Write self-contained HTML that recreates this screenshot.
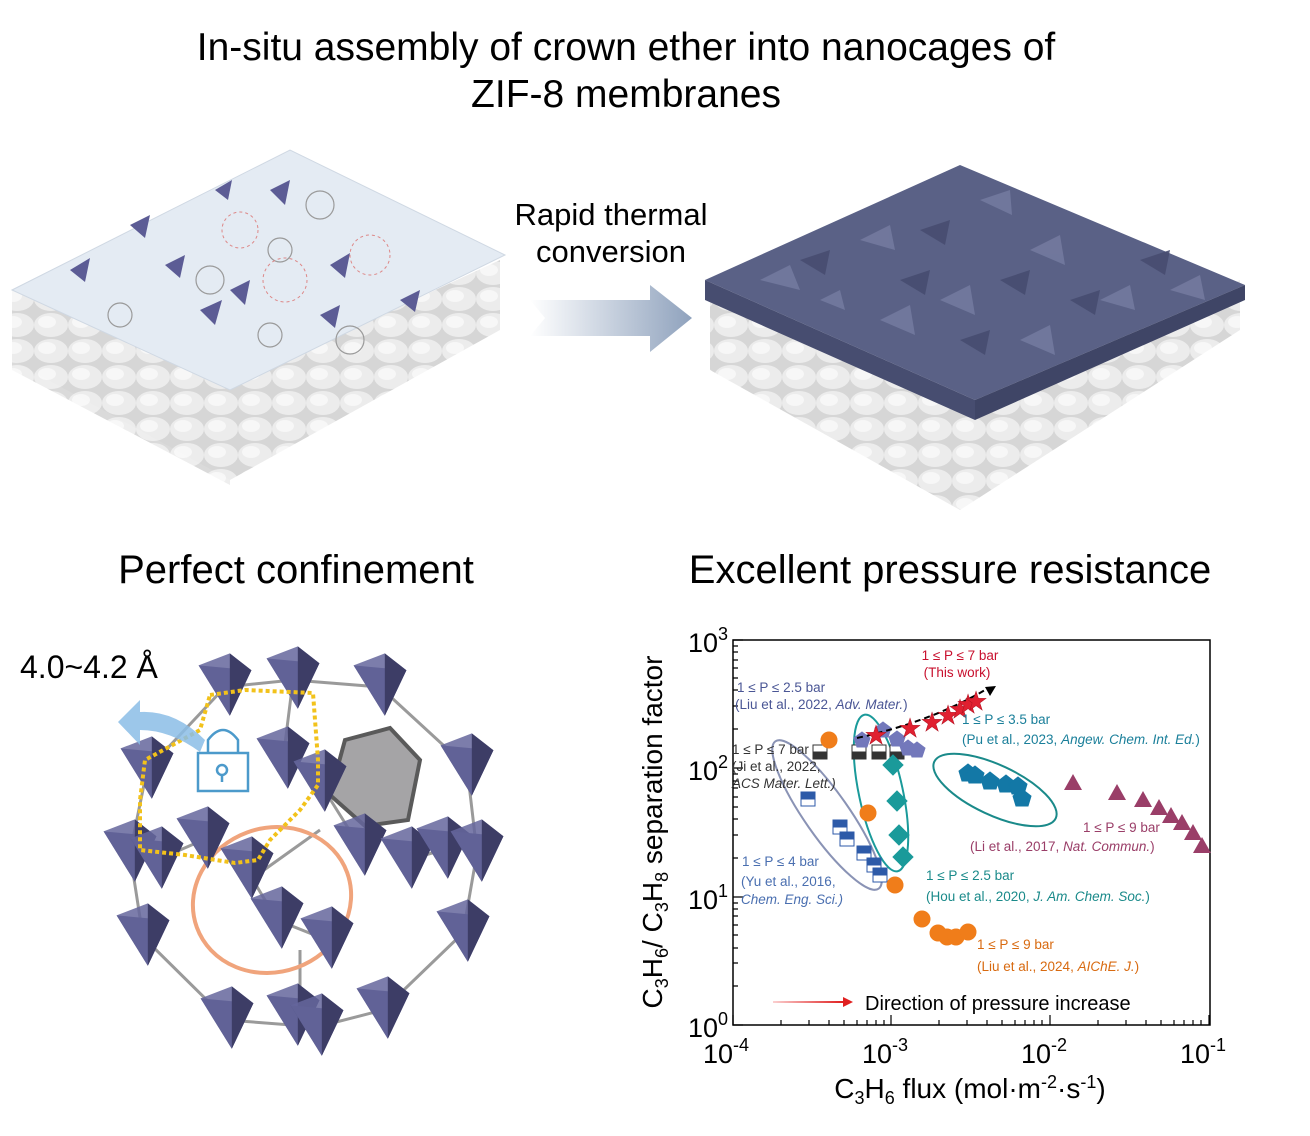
<!DOCTYPE html>
<html><head><meta charset="utf-8"><style>
html,body{margin:0;padding:0;background:#fff}
svg{display:block}
text{font-family:"Liberation Sans",Arial,sans-serif}
</style></head><body>
<svg width="1310" height="1136" viewBox="0 0 1310 1136" xmlns="http://www.w3.org/2000/svg">
<defs>
<linearGradient id="ag" x1="0" x2="1"><stop offset="0" stop-color="#fff"/><stop offset="1" stop-color="#8fa2bd"/></linearGradient>
<linearGradient id="ra" x1="0" x2="1"><stop offset="0" stop-color="#fbd0d0"/><stop offset="1" stop-color="#e02020"/></linearGradient>
<pattern id="bumps" width="34" height="26" patternUnits="userSpaceOnUse"><rect width="34" height="26" fill="#d6d6d6"/><ellipse cx="17" cy="13" rx="17" ry="12" fill="#ececec"/><ellipse cx="13" cy="10" rx="9" ry="6" fill="#f7f7f7"/></pattern>
<g id="tet"><g transform="scale(1.2)"><polygon points="-22,-18 22,-14 4,24" fill="#4b4b7c"/><polygon points="-22,-18 4,-28 22,-14 4,24" fill="#65669c" opacity=".85"/><polygon points="4,-28 22,-14 4,24" fill="#3d3d66"/></g></g>
<clipPath id="top"><rect x="0" y="0" width="8" height="8"/></clipPath>
</defs>

<!-- Title -->
<text x="626" y="60" font-size="39" text-anchor="middle">In-situ assembly of crown ether into nanocages of</text>
<text x="626" y="107" font-size="39" text-anchor="middle">ZIF-8 membranes</text>

<!-- Left membrane -->
<polygon points="12,290 230,385 500,260 500,330 230,480 12,360" fill="url(#bumps)"/>
<polygon points="12,300 230,395 230,485 12,370" fill="url(#bumps)" opacity=".9"/>
<polygon points="12,290 290,150 505,255 230,390" fill="#e4ebf3" stroke="#cfd8e3"/>
<g fill="#5c5c95">
<polygon points="70,270 90,258 85,282"/><polygon points="130,225 150,215 145,238"/><polygon points="200,310 222,300 215,325"/><polygon points="270,190 290,180 285,205"/><polygon points="330,265 350,253 345,278"/><polygon points="230,290 250,280 245,305"/><polygon points="320,315 340,305 335,328"/><polygon points="400,300 420,290 415,312"/><polygon points="165,265 185,255 180,278"/><polygon points="215,190 232,180 228,200"/>
</g>
<g fill="none" stroke="#9a9a9a" stroke-width="1.2">
<circle cx="210" cy="280" r="14"/><circle cx="320" cy="205" r="14"/><circle cx="350" cy="340" r="14"/><circle cx="270" cy="335" r="12"/><circle cx="120" cy="315" r="12"/><circle cx="280" cy="250" r="12"/></g>
<g fill="none" stroke="#d88" stroke-width="1" stroke-dasharray="3 3"><circle cx="285" cy="280" r="22"/><circle cx="370" cy="255" r="20"/><circle cx="240" cy="230" r="18"/></g>

<!-- Arrow -->
<polygon points="530,300 650,300 650,285 692,318 650,352 650,336 530,336 545,318" fill="url(#ag)"/>
<text x="611" y="225" font-size="31" text-anchor="middle">Rapid thermal</text>
<text x="611" y="262" font-size="31" text-anchor="middle">conversion</text>

<!-- Right membrane -->
<polygon points="710,290 960,400 1240,280 1240,330 960,510 710,370" fill="url(#bumps)"/>
<polygon points="705,280 960,165 1245,285 975,400" fill="#5a6186"/>
<g fill="#737a9f" opacity=".9">
<polygon points="760,280 790,265 800,290"/><polygon points="860,240 890,225 895,250"/><polygon points="940,300 970,285 975,315"/><polygon points="1030,250 1060,235 1065,265"/><polygon points="1100,300 1130,285 1135,310"/><polygon points="980,200 1010,190 1012,215"/><polygon points="880,320 910,305 915,335"/><polygon points="1170,290 1200,275 1205,300"/><polygon points="1020,340 1050,325 1055,355"/><polygon points="820,300 840,290 845,310"/></g>
<g fill="#474d70" opacity=".9">
<polygon points="800,260 830,250 825,275"/><polygon points="920,230 950,220 945,245"/><polygon points="1000,280 1030,270 1025,295"/><polygon points="1070,300 1100,290 1095,315"/><polygon points="900,280 930,270 925,295"/><polygon points="1140,260 1170,250 1165,275"/><polygon points="960,340 990,330 985,355"/></g>
<polygon points="705,280 975,400 975,420 705,300" fill="#474d70"/>
<polygon points="975,400 1245,285 1245,300 975,420" fill="#3f4566"/>

<!-- Section titles -->
<text x="296" y="583" font-size="40" text-anchor="middle">Perfect confinement</text>
<text x="950" y="583" font-size="40" text-anchor="middle">Excellent pressure resistance</text>

<!-- Cage -->
<text x="20" y="678" font-size="32">4.0~4.2 Å</text>
<g stroke="#9a9a9a" stroke-width="3" fill="none">
<path d="M225,687 L293,680 L380,687 L467,767 L477,853 L463,933 L383,1010 L317,1027 L227,1020 L143,937 L130,853 L147,770 Z"/>
<path d="M293,680 L283,760 M320,783 L360,847 M247,870 L277,920 L327,940 M157,860 L203,840 M407,860 L443,850 M300,950 L300,1010 M250,880 L320,830"/>
</g>
<ellipse cx="272" cy="900" rx="80" ry="72" fill="none" stroke="#f0a47c" stroke-width="4" transform="rotate(-20 272 900)"/>
<polygon points="345,740 390,728 420,760 408,820 365,826 330,795" fill="#a5a4a6" stroke="#5a5a5a" stroke-width="4"/>
<g>
<use href="#tet" x="225" y="687"/><use href="#tet" x="293" y="680"/><use href="#tet" x="380" y="687"/><use href="#tet" x="467" y="767"/><use href="#tet" x="147" y="770"/><use href="#tet" x="283" y="760"/><use href="#tet" x="320" y="783"/><use href="#tet" x="130" y="853"/><use href="#tet" x="157" y="860"/><use href="#tet" x="203" y="840"/><use href="#tet" x="247" y="870"/><use href="#tet" x="360" y="847"/><use href="#tet" x="407" y="860"/><use href="#tet" x="443" y="850"/><use href="#tet" x="477" y="853"/><use href="#tet" x="143" y="937"/><use href="#tet" x="463" y="933"/><use href="#tet" x="277" y="920"/><use href="#tet" x="327" y="940"/><use href="#tet" x="227" y="1020"/><use href="#tet" x="293" y="1017"/><use href="#tet" x="317" y="1027"/><use href="#tet" x="383" y="1010"/>
</g>
<path d="M210,695 L245,690 L313,693 L318,760 L318,785 L300,810 L270,840 L258,860 L235,863 L185,855 L140,850 L140,800 L145,760 L200,730 Z" fill="none" stroke="#f2c21b" stroke-width="4" stroke-dasharray="4 3"/>
<path d="M205,740 Q175,710 140,712 L140,700 L118,722 L140,745 L140,730 Q170,730 200,752 Z" fill="#8bbde6" opacity=".85"/>
<g fill="none" stroke="#4c9acb" stroke-width="2.5"><rect x="198" y="753" width="50" height="38"/><path d="M208,753 V740 Q223,720 238,740 V753"/><circle cx="222" cy="770" r="5"/><path d="M222,775 V782"/></g>

<!-- Chart -->
<g font-size="13.5">
<rect x="733" y="640" width="477" height="385" fill="none" stroke="#000" stroke-width="1.5"/>
<g stroke="#000" stroke-width="1.2">
<path d="M733,1025v-10 M891,1025v-10 M1050,1025v-10 M1209,1025v-10 M733,640h10 M733,768h10 M733,897h10 M733,1025h10"/>
<path d="M781,1025v-5 M809,1025v-5 M829,1025v-5 M844,1025v-5 M857,1025v-5 M867,1025v-5 M876,1025v-5 M884,1025v-5 M939,1025v-5 M967,1025v-5 M987,1025v-5 M1002,1025v-5 M1015,1025v-5 M1025,1025v-5 M1034,1025v-5 M1042,1025v-5 M1098,1025v-5 M1126,1025v-5 M1146,1025v-5 M1161,1025v-5 M1174,1025v-5 M1184,1025v-5 M1193,1025v-5 M1201,1025v-5"/>
<path d="M733,986h5 M733,963h5 M733,948h5 M733,935h5 M733,925h5 M733,916h5 M733,909h5 M733,903h5 M733,858h5 M733,835h5 M733,819h5 M733,807h5 M733,797h5 M733,788h5 M733,781h5 M733,774h5 M733,729h5 M733,706h5 M733,690h5 M733,678h5 M733,668h5 M733,660h5 M733,652h5 M733,646h5"/>
</g>
<g font-size="27" text-anchor="end"><text x="728" y="652">10<tspan font-size="18" dy="-12">3</tspan></text><text x="728" y="780">10<tspan font-size="18" dy="-12">2</tspan></text><text x="728" y="909">10<tspan font-size="18" dy="-12">1</tspan></text><text x="728" y="1037">10<tspan font-size="18" dy="-12">0</tspan></text></g>
<g font-size="27" text-anchor="middle"><text x="726" y="1063">10<tspan font-size="18" dy="-12">-4</tspan></text><text x="885" y="1063">10<tspan font-size="18" dy="-12">-3</tspan></text><text x="1044" y="1063">10<tspan font-size="18" dy="-12">-2</tspan></text><text x="1203" y="1063">10<tspan font-size="18" dy="-12">-1</tspan></text></g>
<text x="970" y="1098" font-size="28" text-anchor="middle">C<tspan font-size="18" dy="6">3</tspan><tspan dy="-6">H</tspan><tspan font-size="18" dy="6">6</tspan><tspan dy="-6"> flux (mol·m</tspan><tspan font-size="18" dy="-10">-2</tspan><tspan dy="10">·s</tspan><tspan font-size="18" dy="-10">-1</tspan><tspan dy="10">)</tspan></text>
<text transform="translate(662,832) rotate(-90)" font-size="28" text-anchor="middle">C<tspan font-size="18" dy="6">3</tspan><tspan dy="-6">H</tspan><tspan font-size="18" dy="6">6</tspan><tspan dy="-6">/ C</tspan><tspan font-size="18" dy="6">3</tspan><tspan dy="-6">H</tspan><tspan font-size="18" dy="6">8</tspan><tspan dy="-6"> separation factor</tspan></text>

<!-- ellipses -->
<ellipse cx="827" cy="815" rx="22" ry="90" fill="none" stroke="#8a93b5" stroke-width="2" transform="rotate(-35 827 815)"/>
<ellipse cx="881" cy="793" rx="22" ry="80" fill="none" stroke="#1a9a9a" stroke-width="2" transform="rotate(-12 881 793)"/>
<ellipse cx="995" cy="790" rx="67" ry="25" fill="none" stroke="#1a8a8a" stroke-width="2" transform="rotate(25 995 790)"/>

<!-- points -->
<g stroke="#2d5aa8" stroke-width="1"><g fill="#fff">
<rect x="801" y="792" width="14" height="14"/><rect x="833" y="820" width="14" height="14"/><rect x="840" y="832" width="14" height="14"/><rect x="857" y="846" width="14" height="14"/><rect x="867" y="858" width="14" height="14"/><rect x="873" y="868" width="14" height="14"/></g>
<g fill="#2d5aa8"><rect x="801" y="792" width="14" height="7"/><rect x="833" y="820" width="14" height="7"/><rect x="840" y="832" width="14" height="7"/><rect x="857" y="846" width="14" height="7"/><rect x="867" y="858" width="14" height="7"/><rect x="873" y="868" width="14" height="7"/></g></g>
<g stroke="#333" stroke-width="1"><g fill="#fff"><rect x="813" y="745" width="14" height="14"/><rect x="852" y="745" width="14" height="14"/><rect x="872" y="745" width="14" height="14"/><rect x="890" y="745" width="14" height="14"/></g><g fill="#333"><rect x="813" y="752" width="14" height="7"/><rect x="852" y="752" width="14" height="7"/><rect x="872" y="752" width="14" height="7"/><rect x="890" y="752" width="14" height="7"/></g></g>
<g fill="#7378bb" stroke="#7378bb"><polygon points="883,722 891,728 888,737 878,737 875,728"/><polygon points="897,731 905,737 902,746 892,746 889,737"/><polygon points="908,740 916,746 913,755 903,755 900,746"/><polygon points="917,742 925,748 922,757 912,757 909,748"/><polygon points="862,732 870,738 867,747 857,747 854,738"/></g>
<g stroke="#1a9a9a" fill="#1a9a9a"><polygon points="893,755 903,765 893,775 883,765"/><polygon points="897,791 907,801 897,811 887,801"/><polygon points="899,825 909,835 899,845 889,835"/><polygon points="903,847 913,857 903,867 893,857"/></g>
<g stroke="#1378a6" fill="#1378a6"><polygon points="968,764 977,771 974,781 962,781 959,771"/><polygon points="975,766 984,773 981,783 969,783 966,773"/><polygon points="990,772 999,779 996,789 984,789 981,779"/><polygon points="1006,775 1015,782 1012,792 1000,792 997,782"/><polygon points="1018,777 1027,784 1024,794 1012,794 1009,784"/><polygon points="1022,789 1031,796 1028,806 1016,806 1013,796"/></g>
<g fill="#f07d1a" stroke="#f07d1a"><circle cx="829" cy="740" r="8"/><circle cx="868" cy="813" r="8"/><circle cx="895" cy="885" r="8"/><circle cx="922" cy="919" r="8"/><circle cx="938" cy="933" r="8"/><circle cx="947" cy="937" r="8"/><circle cx="956" cy="937" r="8"/><circle cx="968" cy="932" r="8"/></g>
<g fill="#9a3e68"><polygon points="1073,774 1082,790 1064,790"/><polygon points="1117,784 1126,800 1108,800"/><polygon points="1143,791 1152,807 1134,807"/><polygon points="1159,799 1168,815 1150,815"/><polygon points="1171,807 1180,823 1162,823"/><polygon points="1182,814 1191,830 1173,830"/><polygon points="1193,824 1202,840 1184,840"/><polygon points="1202,837 1211,853 1193,853"/></g>
<path d="M857,738 Q930,722 985,690" fill="none" stroke="#000" stroke-width="2" stroke-dasharray="6 4"/><polygon points="996,686 985,687 990,696"/>
<g fill="#e02030" stroke="#b01020" stroke-width=".5" font-size="26">
<text x="876" y="744" text-anchor="middle">★</text><text x="910" y="737" text-anchor="middle">★</text><text x="932" y="731" text-anchor="middle">★</text><text x="948" y="724" text-anchor="middle">★</text><text x="960" y="718" text-anchor="middle">★</text><text x="968" y="713" text-anchor="middle">★</text><text x="976" y="710" text-anchor="middle">★</text></g>

<!-- labels -->
<g fill="#c8102e"><text x="960" y="660" text-anchor="middle">1 ≤ P ≤ 7 bar</text><text x="957" y="677" text-anchor="middle">(This work)</text></g>
<g fill="#4a5695"><text x="737" y="692">1 ≤ P ≤ 2.5 bar</text><text x="735" y="709">(Liu et al., 2022, <tspan font-style="italic">Adv. Mater.</tspan>)</text></g>
<g fill="#333"><text x="732" y="754">1 ≤ P ≤ 7 bar</text><text x="732" y="771">(Ji et al., 2022,</text><text x="732" y="788" font-style="italic">ACS Mater. Lett.)</text></g>
<g fill="#1a7f9a"><text x="962" y="724">1 ≤ P ≤ 3.5 bar</text><text x="962" y="744">(Pu et al., 2023, <tspan font-style="italic">Angew. Chem. Int. Ed.</tspan>)</text></g>
<g fill="#9a3e68"><text x="1083" y="832">1 ≤ P ≤ 9 bar</text><text x="970" y="851">(Li et al., 2017, <tspan font-style="italic">Nat. Commun.</tspan>)</text></g>
<g fill="#4a6fb0"><text x="742" y="866">1 ≤ P ≤ 4 bar</text><text x="741" y="886">(Yu et al., 2016,</text><text x="741" y="904" font-style="italic">Chem. Eng. Sci.)</text></g>
<g fill="#1a8a8a"><text x="926" y="880">1 ≤ P ≤ 2.5 bar</text><text x="926" y="901">(Hou et al., 2020, <tspan font-style="italic">J. Am. Chem. Soc.</tspan>)</text></g>
<g fill="#d86a10"><text x="977" y="949">1 ≤ P ≤ 9 bar</text><text x="977" y="971">(Liu et al., 2024, <tspan font-style="italic">AIChE. J.</tspan>)</text></g>
<rect x="773" y="1001" width="70" height="2" fill="url(#ra)"/><polygon points="843,997 853,1002 843,1007" fill="#e02020"/>
<text x="865" y="1010" font-size="20">Direction of pressure increase</text>
</g>
</svg>
</body></html>
